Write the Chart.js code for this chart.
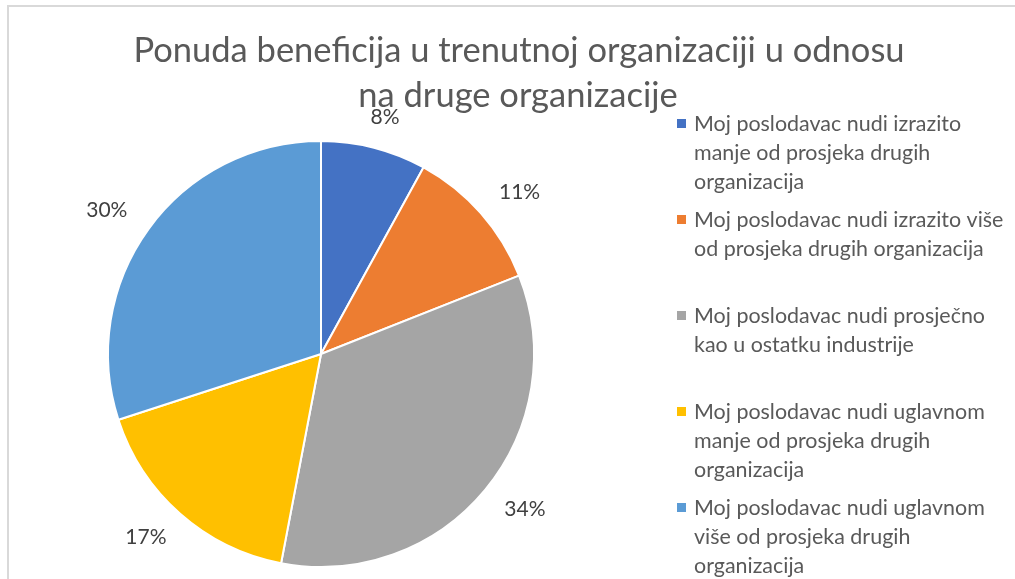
<!DOCTYPE html>
<html>
<head>
<meta charset="utf-8">
<script src="https://cdn.jsdelivr.net/npm/chart.js@4"></script>
<style>
  body { margin: 0; background: #fff; }
  #wrap { width: 1015px; height: 579px; position: relative; }
</style>
</head>
<body>
<div id="wrap"><canvas id="myChart" width="1015" height="579"></canvas></div>
<script>
// chart data
const titleLines = ['Ponuda beneficija u trenutnoj organizaciji u odnosu', 'na druge organizacije'];
const categories = [
  'Moj poslodavac nudi izrazito manje od prosjeka drugih organizacija',
  'Moj poslodavac nudi izrazito više od prosjeka drugih organizacija',
  'Moj poslodavac nudi prosječno kao u ostatku industrije',
  'Moj poslodavac nudi uglavnom manje od prosjeka drugih organizacija',
  'Moj poslodavac nudi uglavnom više od prosjeka drugih organizacija'
];
const shares = [8, 11, 34, 17, 30];
const colors = ['#4472C4', '#ED7D31', '#A5A5A5', '#FFC000', '#5B9BD5'];

const FONT = 'Lato, "Open Sans", sans-serif';

// frame + title
const framePlugin = {
  id: 'frame',
  beforeDraw(chart) {
    const ctx = chart.ctx;
    ctx.save();
    ctx.strokeStyle = '#d9d9d9';
    ctx.lineWidth = 2;
    ctx.beginPath();
    ctx.moveTo(8, 579);
    ctx.lineTo(8, 6);
    ctx.lineTo(1015, 6);
    ctx.stroke();

    ctx.fillStyle = '#595959';
    ctx.font = '34.5px ' + FONT;
    ctx.textAlign = 'center';
    ctx.textBaseline = 'alphabetic';
    ctx.fillText(titleLines[0], 519, 62, 772);
    ctx.fillText(titleLines[1], 518, 107, 327);
    ctx.restore();
  }
};

// percentage labels outside each slice
const labelPlugin = {
  id: 'outLabels',
  afterDatasetsDraw(chart) {
    const ctx = chart.ctx;
    const meta = chart.getDatasetMeta(0);
    const total = shares.reduce((a, b) => a + b, 0);
    ctx.save();
    ctx.font = '21px ' + FONT;
    ctx.fillStyle = '#404040';
    ctx.textAlign = 'center';
    ctx.textBaseline = 'middle';
    meta.data.forEach((arc, i) => {
      const mid = (arc.startAngle + arc.endAngle) / 2;
      const dx = Math.cos(mid), dy = Math.sin(mid);
      const txt = Math.round(shares[i] / total * 100) + '%';
      const w = ctx.measureText(txt).width;
      const r = arc.outerRadius + 27;
      const x = arc.x + dx * r + dx * w * 0.6;
      const y = arc.y + dy * r + dy * 4;
      ctx.fillText(txt, x, y);
    });
    ctx.restore();
  }
};

// legend on the right, wrapped text
const legendPlugin = {
  id: 'sideLegend',
  afterDraw(chart) {
    const ctx = chart.ctx;
    ctx.save();
    ctx.font = '22px ' + FONT;
    ctx.textBaseline = 'alphabetic';
    ctx.textAlign = 'left';
    const maxW = 312;
    const scale = 0.975; // a bit narrower, like Calibri
    categories.forEach((label, i) => {
      const base = 131 + i * 96;
      const words = label.split(' ');
      const lines = [];
      let cur = '';
      words.forEach(wd => {
        const test = cur ? cur + ' ' + wd : wd;
        if (ctx.measureText(test).width * scale > maxW && cur) {
          lines.push(cur);
          cur = wd;
        } else {
          cur = test;
        }
      });
      if (cur) lines.push(cur);
      ctx.fillStyle = colors[i];
      ctx.fillRect(677, base - 12, 9, 9);
      ctx.fillStyle = '#595959';
      lines.forEach((ln, k) => {
        const w = ctx.measureText(ln).width * scale;
        ctx.fillText(ln, 694, base + k * 29, w);
      });
    });
    ctx.restore();
  }
};

new Chart(document.getElementById('myChart'), {
  type: 'pie',
  data: {
    labels: categories,
    datasets: [{
      data: shares,
      backgroundColor: colors,
      borderColor: '#ffffff',
      borderWidth: 2
    }]
  },
  options: {
    responsive: false,
    animation: false,
    layout: { padding: { left: 106, right: 479, top: 140, bottom: 11 } },
    plugins: {
      legend: { display: false },
      title: { display: false },
      tooltip: { enabled: false }
    }
  },
  plugins: [framePlugin, labelPlugin, legendPlugin]
});
</script>
</body>
</html>
